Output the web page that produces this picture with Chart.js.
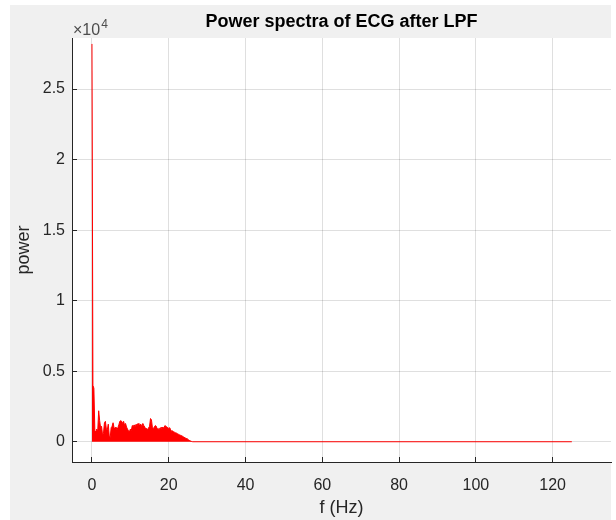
<!DOCTYPE html>
<html>
<head>
<meta charset="utf-8">
<script src="https://cdn.jsdelivr.net/npm/chart.js@4.4.0/dist/chart.umd.min.js"></script>
<style>
  html, body { margin: 0; padding: 0; background: #ffffff; }
</style>
</head>
<body>
<canvas id="spectrum" width="616" height="520"></canvas>
<script>
// frequency bins (Hz), 0.25 Hz apart up to the cut-off, then the flat tail
const freqHz = [
  0, 0.25, 0.5, 0.75, 1, 1.25, 1.5, 1.75,
  2, 2.25, 2.5, 2.75, 3, 3.25, 3.5, 3.75,
  4, 4.25, 4.5, 4.75, 5, 5.25, 5.5, 5.75,
  6, 6.25, 6.5, 6.75, 7, 7.25, 7.5, 7.75,
  8, 8.25, 8.5, 8.75, 9, 9.25, 9.5, 9.75,
  10, 10.25, 10.5, 10.75, 11, 11.25, 11.5, 11.75,
  12, 12.25, 12.5, 12.75, 13, 13.25, 13.5, 13.75,
  14, 14.25, 14.5, 14.75, 15, 15.25, 15.5, 15.75,
  16, 16.25, 16.5, 16.75, 17, 17.25, 17.5, 17.75,
  18, 18.25, 18.5, 18.75, 19, 19.25, 19.5, 19.75,
  20, 20.25, 20.5, 20.75, 21, 21.25, 21.5, 21.75,
  22, 22.25, 22.5, 22.75, 23, 23.25, 23.5, 23.75,
  24, 24.25, 24.5, 24.75, 25, 25.25, 25.5, 25.75,
  26, 26.25, 125
];

// power at each bin (estimated from the plot)
const power = [
  28200, 4000, 3800, 800, 700, 900, 750, 2200,
  1500, 1000, 1100, 500, 600, 1350, 1450, 900,
  850, 1250, 400, 300, 1000, 1100, 1350, 1000,
  900, 1050, 850, 1000, 1200, 1450, 1500, 1450,
  1300, 1450, 1150, 1300, 1050, 900, 800, 700,
  900, 800, 1150, 1100, 1200, 1050, 1250, 1150,
  1300, 1100, 1200, 1250, 1050, 1300, 1150, 1050,
  900, 950, 850, 1000, 1100, 1650, 1550, 1000,
  950, 1050, 1150, 1100, 900, 950, 850, 1000,
  950, 1050, 900, 1000, 1150, 1100, 1050, 1000,
  950, 1000, 850, 750, 780, 700, 680, 640,
  620, 580, 540, 500, 470, 440, 410, 360,
  320, 280, 240, 200, 160, 120, 80, 50,
  20, 5, 5
];

const xTickValues = [0, 20, 40, 60, 80, 100, 120];
const yTickValues = [0, 5000, 10000, 15000, 20000, 25000];
const yTickLabels = ['0', '0.5', '1', '1.5', '2', '2.5'];

const FONT = "'Liberation Sans', Arial, Helvetica, sans-serif";
const AXIS_COLOR = '#262626';
const GRID_COLOR = 'rgba(38, 38, 38, 0.15)';

// grey figure background, white axes box, inward ticks, exponent and axis labels
const figureFrame = {
  id: 'figureFrame',
  beforeDraw(chart) {
    const { ctx, chartArea: a } = chart;
    ctx.save();
    ctx.fillStyle = '#ffffff';
    ctx.fillRect(0, 0, chart.width, chart.height);
    ctx.fillStyle = '#f0f0f0';
    ctx.fillRect(10, 5, 601, 515);
    ctx.fillStyle = '#ffffff';
    ctx.fillRect(a.left, a.top, a.right - a.left, a.bottom - a.top);
    ctx.restore();
  },
  afterDraw(chart) {
    const { ctx, chartArea: a } = chart;
    const xs = chart.scales.x;
    const ys = chart.scales.y;
    const align = (p) => Math.round(p - 0.5) + 0.5;

    ctx.save();
    ctx.strokeStyle = AXIS_COLOR;
    ctx.lineWidth = 1;
    ctx.beginPath();
    xTickValues.forEach((v) => {
      const px = align(xs.getPixelForValue(v));
      ctx.moveTo(px, a.bottom);
      ctx.lineTo(px, a.bottom - 5);
    });
    yTickValues.forEach((v) => {
      const py = align(ys.getPixelForValue(v));
      ctx.moveTo(a.left, py);
      ctx.lineTo(a.left + 5, py);
    });
    ctx.stroke();

    // x10^4 multiplier above the y axis
    ctx.fillStyle = '#4d4d4d';
    ctx.textBaseline = 'alphabetic';
    ctx.textAlign = 'left';
    ctx.font = '16px ' + FONT;
    const base = '\u00d710';
    ctx.fillText(base, 73, 35);
    const w = ctx.measureText(base).width;
    ctx.font = '12px ' + FONT;
    ctx.fillText('4', 73 + w + 1, 28);

    // axis labels
    ctx.fillStyle = AXIS_COLOR;
    ctx.font = '18px ' + FONT;
    ctx.textAlign = 'center';
    ctx.fillText('f (Hz)', (a.left + a.right) / 2, 513);
    ctx.save();
    ctx.translate(29, 250);
    ctx.rotate(-Math.PI / 2);
    ctx.fillText('power', 0, 0);
    ctx.restore();
    ctx.restore();
  }
};

const points = freqHz.map((f, i) => ({ x: f, y: power[i] }));

new Chart(document.getElementById('spectrum'), {
  type: 'line',
  data: {
    datasets: [{
      label: 'power',
      data: points,
      borderColor: '#ff0000',
      backgroundColor: '#ff0000',
      borderWidth: 1,
      pointRadius: 0,
      tension: 0,
      fill: 'origin'
    }]
  },
  options: {
    responsive: false,
    animation: false,
    layout: { padding: { left: 0, right: 5, top: 0, bottom: 0 } },
    plugins: {
      legend: { display: false },
      tooltip: { enabled: false },
      title: {
        display: true,
        text: 'Power spectra of ECG after LPF',
        fullSize: false,
        color: '#000000',
        font: { family: FONT, size: 18, weight: 'bold' },
        padding: { top: 11, bottom: 5.4 }
      }
    },
    scales: {
      x: {
        type: 'linear',
        min: -5.2,
        max: 135.2,
        afterBuildTicks: (scale) => { scale.ticks = xTickValues.map((v) => ({ value: v })); },
        afterFit: (scale) => { scale.height = 58; },
        grid: { color: GRID_COLOR, drawTicks: false },
        border: { display: true, color: AXIS_COLOR, width: 1 },
        ticks: {
          color: AXIS_COLOR,
          font: { family: FONT, size: 16 },
          padding: 14,
          maxRotation: 0
        }
      },
      y: {
        type: 'linear',
        min: -1431,
        max: 28620,
        afterBuildTicks: (scale) => { scale.ticks = yTickValues.map((v) => ({ value: v })); },
        afterFit: (scale) => { scale.width = 72; },
        grid: { color: GRID_COLOR, drawTicks: false },
        border: { display: true, color: AXIS_COLOR, width: 1 },
        ticks: {
          color: AXIS_COLOR,
          font: { family: FONT, size: 16 },
          padding: 7,
          callback: (v) => yTickLabels[yTickValues.indexOf(v)]
        }
      }
    }
  },
  plugins: [figureFrame]
});
</script>
</body>
</html>
